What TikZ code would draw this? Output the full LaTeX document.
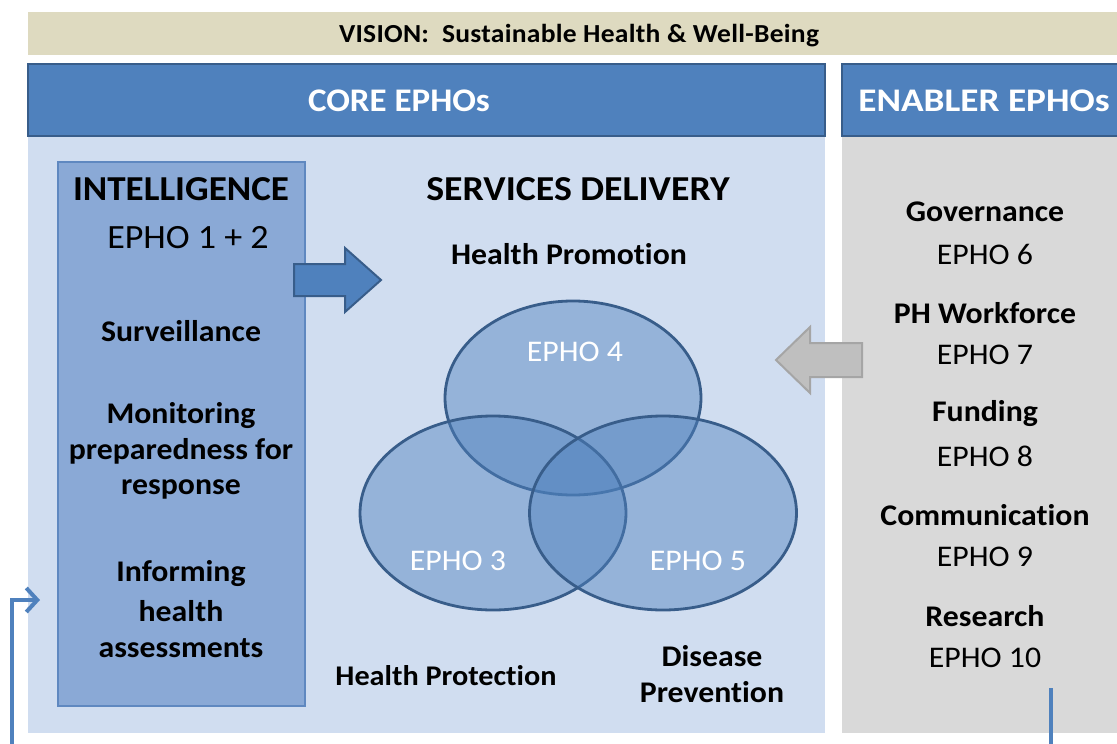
\documentclass[tikz,border=0pt]{standalone}
\usepackage{fontspec}
\setmainfont{Carlito}[Ligatures={NoCommon}, FakeStretch=1.06]
\usetikzlibrary{shapes.geometric,arrows.meta}
\definecolor{hdrblue}{RGB}{79,129,189}
\definecolor{hdredge}{RGB}{56,93,138}
\definecolor{corebg}{RGB}{208,221,240}
\definecolor{intelbg}{RGB}{138,169,214}
\definecolor{intedge}{RGB}{95,136,192}
\definecolor{visionbg}{RGB}{222,218,192}
\definecolor{enablebg}{RGB}{217,217,217}
\definecolor{grayarrow}{RGB}{191,191,191}
\definecolor{grayedge}{RGB}{165,165,165}
\tikzset{
  panel/.style={inner sep=0pt, outer sep=0pt, anchor=north west},
  hdr/.style={panel, fill=hdrblue, draw=hdredge, line width=2pt},
  hdrtxt/.style={text=white, font=\fontsize{33}{38}\selectfont\bfseries},
  bodyb/.style={font=\fontsize{30}{35.5}\selectfont\bfseries, align=center, inner sep=0pt},
  bodyr/.style={font=\fontsize{30}{35.5}\selectfont, align=center, inner sep=0pt},
  bigb/.style={font=\fontsize{35}{40}\selectfont\bfseries, inner sep=0pt},
  venn/.style={ellipse, draw=hdredge, line width=2.8pt, fill=hdrblue, fill opacity=0.45, draw opacity=1, inner sep=0pt},
  venntxt/.style={text=white, font=\fontsize{30}{34}\selectfont, inner sep=0pt},
  conn/.style={draw=hdrblue, line width=4.5pt},
}
\begin{document}
\begin{tikzpicture}[x=1pt,y=-1pt]
\useasboundingbox (0,0) rectangle (1117,744);
% vision banner
\node[panel, fill=visionbg, minimum width=1089pt, minimum height=43pt] (vision) at (28,12) {};
\node[font=\fontsize{26}{30}\selectfont\bfseries\addfontfeature{LetterSpace=1}, inner sep=0pt] (visiontxt) at (579,36) {VISION:\ \ Sustainable Health \& Well-Being};
% core panel
\node[panel, fill=corebg, minimum width=797pt, minimum height=597pt] (corebody) at (28,136) {};
\node[hdr, minimum width=797pt, minimum height=72pt] (corehdr) at (28,64) {};
\node[hdrtxt] (coretxt) at (399,101) {CORE EPHOs};
% enabler panel
\node[panel, fill=enablebg, minimum width=280pt, minimum height=597pt] (enbody) at (842,136) {};
\node[hdr, minimum width=285pt, minimum height=72pt] (enhdr) at (842,64) {};
\node[hdrtxt, font=\fontsize{33}{38}\selectfont\bfseries\addfontfeature{FakeStretch=1.13}] (entxt) at (984,101) {ENABLER EPHOs};
% intelligence box
\node[panel, fill=intelbg, draw=intedge, line width=1.2pt, minimum width=247pt, minimum height=544pt] (intel) at (58,162) {};
\node[bigb] (inteltitle) at (181,189) {INTELLIGENCE};
\node[bodyr, font=\fontsize{34}{38}\selectfont] (epho12) at (188,238) {EPHO 1 + 2};
\node[bodyb] (surv) at (181,331) {Surveillance};
\node[bodyb] (monit) at (181,451) {Monitoring\\preparedness for\\response};
\node[bodyb] (inform) at (181,609) {Informing\\[5pt]health\\assessments};
% services delivery
\node[bigb, font=\fontsize{35}{40}\selectfont\bfseries\addfontfeature{FakeStretch=1.08}] (services) at (578,189) {SERVICES DELIVERY};
\node[bodyb] (promo) at (569,254) {Health Promotion};
\node[bodyb, font=\fontsize{28.5}{34}\selectfont\bfseries] (protect) at (446,676) {Health Protection};
\node[bodyb] (prevent) at (712,674) {Disease\\Prevention};
% venn
\node[venn, minimum width=256pt, minimum height=194pt] (e4) at (573,398) {};
\node[venn, minimum width=266pt, minimum height=194pt] (e3) at (493,513) {};
\node[venn, minimum width=267pt, minimum height=194pt] (e5) at (663,513) {};
\node[venntxt] (t4) at (575,352) {EPHO 4};
\node[venntxt] (t3) at (458,561) {EPHO 3};
\node[venntxt] (t5) at (698,561) {EPHO 5};
% block arrows
\draw[fill=hdrblue, draw=hdredge, line width=2pt, line join=miter]
  (294,264) -- (345,264) -- (345,248) -- (381,280) -- (345,312) -- (345,296) -- (294,296) -- cycle;
\draw[fill=grayarrow, draw=grayedge, line width=2pt, line join=miter]
  (862,343) -- (810,343) -- (810,327) -- (776,360) -- (810,393) -- (810,377) -- (862,377) -- cycle;
% enablers
\node[bodyb] (gov) at (985,212) {Governance};
\node[bodyr] (e6) at (985,254) {EPHO 6};
\node[bodyb] (work) at (985,313) {PH Workforce};
\node[bodyr] (e7) at (985,355) {EPHO 7};
\node[bodyb] (fund) at (985,414) {Funding};
\node[bodyr] (e8) at (985,456) {EPHO 8};
\node[bodyb] (comm) at (985,515) {Communication};
\node[bodyr] (e9) at (985,557) {EPHO 9};
\node[bodyb] (res) at (985,616) {Research};
\node[bodyr] (e10) at (985,658) {EPHO 10};
% connectors
\coordinate (lstart) at (12,744);
\coordinate (lend) at (40,600);
\draw[conn, -{Straight Barb[length=11pt,width=24pt,line width=4pt]}] (lstart) |- (lend);
\coordinate (rtop) at (1051,688);
\coordinate (rbot) at (1051,744);
\draw[conn] (rtop) -- (rbot);
\end{tikzpicture}
\end{document}
